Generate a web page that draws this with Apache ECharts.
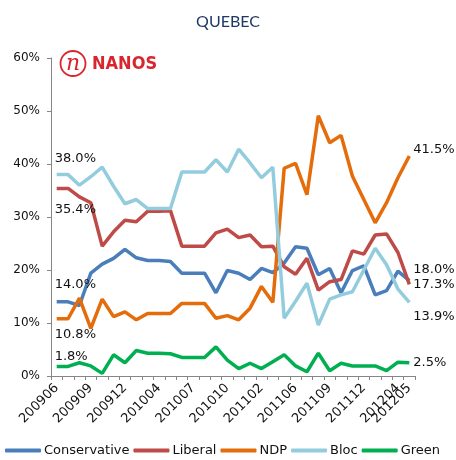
<!DOCTYPE html>
<html>
<head>
<meta charset="utf-8">
<script src="https://cdn.jsdelivr.net/npm/echarts@6/dist/echarts.min.js"></script>
<style>
  html, body { margin: 0; padding: 0; background: #fff; }
  #chart { width: 456px; height: 460px; }
</style>
</head>
<body>
<div id="chart"></div>
<script>
// months polled (only every 3rd label + the last one are shown)
const months = ['200906','200907','200908','200909','200910','200911','200912','201002','201003','201004',
  '201005','201006','201007','201008','201009','201010','201011','201012','201102','201104',
  '201105','201106','201107','201108','201109','201110','201111','201112','201202','201203',
  '201204','201205'];

const conservative = [14.0,14.0,13.3,19.4,21.1,22.2,23.9,22.3,21.8,21.8,21.6,19.4,19.4,19.4,15.7,19.9,
  19.4,18.2,20.3,19.5,21.3,24.4,24.1,19.1,20.3,15.7,19.9,20.8,15.3,16.1,19.8,18.0];
const liberal = [35.4,35.4,33.8,32.7,24.5,27.2,29.4,29.1,31.1,31.1,31.2,24.5,24.5,24.5,27.0,27.7,
  26.1,26.6,24.4,24.5,20.6,19.2,22.2,16.2,17.8,18.2,23.6,23.0,26.6,26.8,23.3,17.3];
const ndp = [10.8,10.8,14.7,9.0,14.5,11.2,12.1,10.6,11.8,11.8,11.8,13.7,13.7,13.7,10.9,11.4,
  10.6,12.8,16.9,13.9,39.2,40.1,34.2,49.1,44.0,45.4,37.7,33.3,28.9,32.7,37.4,41.5];
const bloc = [38.0,38.0,36.0,37.6,39.4,35.8,32.5,33.3,31.6,31.6,31.6,38.5,38.5,38.5,40.8,38.5,
  42.8,40.2,37.4,39.4,10.9,14.1,17.5,9.6,14.5,15.3,15.9,20.0,24.1,21.0,16.4,13.9];
const green = [1.8,1.8,2.5,1.9,0.5,4.0,2.5,4.8,4.3,4.3,4.2,3.5,3.5,3.5,5.5,3.0,
  1.4,2.4,1.4,2.7,4.0,1.9,0.8,4.3,1.0,2.4,1.9,1.9,1.9,1.0,2.6,2.5];

const yTicks = [0, 10, 20, 30, 40, 50, 60];

// name, values, colour, first-label dy, last-label dy
const parties = [
  ['Conservative', conservative, '#4a7ebb', -17, -11],
  ['Liberal', liberal, '#be4b48', 21, 0],
  ['NDP', ndp, '#e46c0a', 16, -6],
  ['Bloc', bloc, '#93cddd', -16, 14],
  ['Green', green, '#00b050', -10, 0]
];

const FONT = 'DejaVu Sans';
const LAST = months.length - 1;

function endLabel(dx, dy) {
  return {
    show: true, position: 'right', distance: 0, offset: [dx, dy],
    align: 'left', verticalAlign: 'middle',
    fontFamily: FONT, fontSize: 13, color: '#111',
    formatter: p => p.value.toFixed(1) + '%'
  };
}

const series = parties.map(([name, vals, color, dyFirst, dyLast]) => ({
  name: name,
  type: 'line',
  symbol: 'circle',
  symbolSize: 0,
  showSymbol: true,
  lineStyle: { width: 3.5, color: color },
  itemStyle: { color: color },
  emphasis: { disabled: true },
  data: vals.map((v, i) => {
    if (i === 0) return { value: v, label: endLabel(-2, dyFirst) };
    if (i === LAST) return { value: v, label: endLabel(4, dyLast) };
    return v;
  })
}));

const xLabelStyle = { rotate: 45, margin: 10, fontFamily: FONT, fontSize: 13, color: '#111', hideOverlap: false };

const chart = echarts.init(document.getElementById('chart'));

chart.setOption({
  animation: false,
  title: {
    text: 'QUEBEC', left: 'center', top: 9,
    textStyle: { fontFamily: 'Lato', fontSize: 16, fontWeight: 'normal', color: '#1f3864' }
  },
  graphic: [
    { type: 'circle', shape: { cx: 73, cy: 63.5, r: 12.5 },
      style: { fill: 'none', stroke: '#d9262e', lineWidth: 1.8 } },
    { type: 'text', x: 73, y: 64,
      style: { text: 'n', fill: '#d9262e', font: 'italic 22px "DejaVu Serif"', align: 'center', verticalAlign: 'middle' } },
    { type: 'text', x: 92, y: 64,
      style: { text: 'NANOS', fill: '#d9262e', font: 'bold 18px "Liberation Sans Narrow", "DejaVu Sans Condensed"', verticalAlign: 'middle' } }
  ],
  legend: {
    left: 5, top: 444, width: 451, padding: 0,
    itemWidth: 36, itemHeight: 4, itemGap: 4,
    icon: 'roundRect',
    textStyle: { fontFamily: FONT, fontSize: 13, color: '#111', padding: [0, 0, 0, -2] },
    data: parties.map(p => p[0])
  },
  grid: { left: 51, right: 41, top: 58, bottom: 84, containLabel: false },
  xAxis: [
    {
      type: 'category',
      data: months,
      boundaryGap: true,
      axisLine: { lineStyle: { color: '#868686', width: 1 } },
      axisTick: { show: true, interval: 0, length: 4, lineStyle: { color: '#868686' } },
      axisLabel: Object.assign({ interval: (i) => i % 3 === 0 }, xLabelStyle)
    },
    {
      // second copy of the axis, only to print the last month next to 201204
      type: 'category',
      data: months,
      position: 'bottom',
      boundaryGap: true,
      axisLine: { show: false },
      axisTick: { show: false },
      axisLabel: Object.assign({ interval: (i) => i === LAST, showMinLabel: false, showMaxLabel: true }, xLabelStyle)
    }
  ],
  yAxis: {
    type: 'value',
    min: yTicks[0], max: yTicks[yTicks.length - 1], interval: 10,
    splitLine: { show: false },
    axisLine: { show: true, lineStyle: { color: '#868686', width: 1 } },
    axisTick: { show: true, length: 4, lineStyle: { color: '#868686' } },
    axisLabel: { formatter: '{value}%', margin: 11, fontFamily: FONT, fontSize: 12, color: '#111' }
  },
  series: series
});
</script>
</body>
</html>
